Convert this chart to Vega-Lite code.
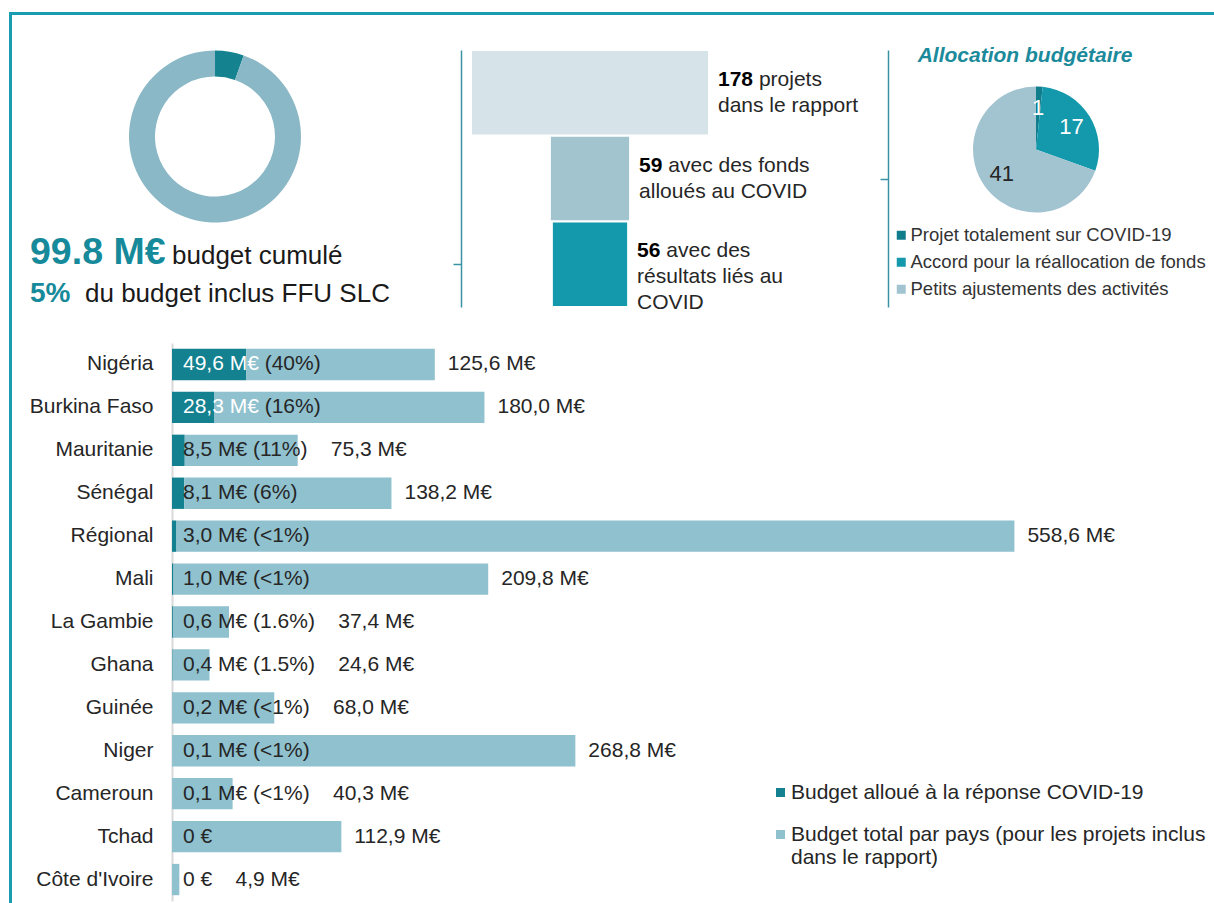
{
  "$schema": "https://vega.github.io/schema/vega-lite/v6.json",
  "padding": {"left": 9, "top": 12, "right": 0, "bottom": 0},
  "background": "white",
  "config": {
    "view": {"stroke": null},
    "font": "Liberation Sans",
    "text": {"font": "Liberation Sans"},
    "axis": {"labelFont": "Liberation Sans"},
    "legend": {"labelFont": "Liberation Sans"},
    "title": {"font": "Liberation Sans"}
  },
  "datasets": {
    "none": [],
    "donut": [
      {"part": "Budget alloué à la réponse COVID-19", "value": 99.8},
      {"part": "Reste du budget inclus FFU SLC", "value": 1744.6}
    ],
    "kpi": [
      {"line": 1, "num": "99.8 M€", "label": "budget cumulé"},
      {"line": 2, "num": "5%", "label": "du budget inclus FFU SLC"}
    ],
    "funnel": [
      {"stage": "Projets dans le rapport", "n": 178, "first": "projets", "more": "dans le rapport"},
      {"stage": "Projets avec des fonds alloués au COVID", "n": 59, "first": "avec des fonds", "more": "alloués au COVID"},
      {"stage": "Projets avec des résultats liés au COVID", "n": 56, "first": "avec des", "more": "résultats liés au\nCOVID"}
    ],
    "pie": [
      {"type": "Projet totalement sur COVID-19", "n": 1},
      {"type": "Accord pour la réallocation de fonds", "n": 17},
      {"type": "Petits ajustements des activités", "n": 41}
    ],
    "countries": [
      {"country": "Nigéria", "covid": 49.6, "total": 125.6, "inner": "49,6 M€ (40%)", "outer": "125,6 M€"},
      {"country": "Burkina Faso", "covid": 28.3, "total": 180.0, "inner": "28,3 M€ (16%)", "outer": "180,0 M€"},
      {"country": "Mauritanie", "covid": 8.5, "total": 75.3, "inner": "8,5 M€ (11%)", "outer": "75,3 M€"},
      {"country": "Sénégal", "covid": 8.1, "total": 138.2, "inner": "8,1 M€ (6%)", "outer": "138,2 M€"},
      {"country": "Régional", "covid": 3.0, "total": 558.6, "inner": "3,0 M€ (<1%)", "outer": "558,6 M€"},
      {"country": "Mali", "covid": 1.0, "total": 209.8, "inner": "1,0 M€ (<1%)", "outer": "209,8 M€"},
      {"country": "La Gambie", "covid": 0.6, "total": 37.4, "inner": "0,6 M€ (1.6%)", "outer": "37,4 M€"},
      {"country": "Ghana", "covid": 0.4, "total": 24.6, "inner": "0,4 M€ (1.5%)", "outer": "24,6 M€"},
      {"country": "Guinée", "covid": 0.2, "total": 68.0, "inner": "0,2 M€ (<1%)", "outer": "68,0 M€"},
      {"country": "Niger", "covid": 0.1, "total": 268.8, "inner": "0,1 M€ (<1%)", "outer": "268,8 M€"},
      {"country": "Cameroun", "covid": 0.1, "total": 40.3, "inner": "0,1 M€ (<1%)", "outer": "40,3 M€"},
      {"country": "Tchad", "covid": 0, "total": 112.9, "inner": "0 €", "outer": "112,9 M€"},
      {"country": "Côte d'Ivoire", "covid": 0, "total": 4.9, "inner": "0 €", "outer": "4,9 M€"}
    ]
  },
  "spacing": 0,
  "bounds": "full",
  "vconcat": [
    {"width": 1214, "height": 1, "data": {"name": "none"}, "mark": "point", "view": {"stroke": "#1A9DB0", "strokeWidth": 2}},
    {
      "spacing": 0,
      "bounds": "full",
      "hconcat": [
        {"width": 1, "height": 900, "data": {"name": "none"}, "mark": "point", "view": {"stroke": "#1A9DB0", "strokeWidth": 2}},
        {
          "columns": 7,
          "spacing": 0,
          "bounds": "flush",
          "align": "each",
          "resolve": {
            "scale": {"color": "independent", "theta": "independent", "size": "independent", "opacity": "independent"},
            "legend": {"color": "independent"}
          },
          "concat": [
            {"width": 1, "height": 33.5, "data": {"name": "none"}, "mark": "point"},
            {"width": 1, "height": 1, "data": {"name": "none"}, "mark": "point"},
            {"width": 1, "height": 1, "data": {"name": "none"}, "mark": "point"},
            {"width": 1, "height": 1, "data": {"name": "none"}, "mark": "point"},
            {"width": 1, "height": 1, "data": {"name": "none"}, "mark": "point"},
            {"width": 1, "height": 1, "data": {"name": "none"}, "mark": "point"},
            {"width": 1, "height": 1, "data": {"name": "none"}, "mark": "point"},

            {
              "width": 36, "height": 293,
              "data": {"name": "kpi"},
              "encoding": {
                "y": {"field": "line", "type": "quantitative", "scale": {"domain": [-4.619, 3.092], "reverse": true, "nice": false, "zero": false}, "axis": null}
              },
              "layer": [
                {
                  "mark": {"type": "text", "align": "left", "baseline": "alphabetic", "fontWeight": "bold", "color": "#168A9A"},
                  "encoding": {
                    "text": {"field": "num"},
                    "size": {"condition": {"test": "datum.line == 1", "value": 37.5}, "value": 28}
                  }
                },
                {
                  "transform": [{"filter": "datum.line == 1"}],
                  "mark": {"type": "text", "align": "left", "baseline": "alphabetic", "dx": 142, "fontSize": 26, "color": "#1A1A1A"},
                  "encoding": {"text": {"field": "label"}}
                },
                {
                  "transform": [{"filter": "datum.line == 2"}],
                  "mark": {"type": "text", "align": "left", "baseline": "alphabetic", "dx": 55, "fontSize": 26, "color": "#1A1A1A"},
                  "encoding": {"text": {"field": "label"}}
                }
              ]
            },
            {
              "width": 86, "height": 173,
              "data": {"name": "donut"},
              "mark": {"type": "arc", "innerRadius": 60, "outerRadius": 86},
              "encoding": {
                "theta": {"field": "value", "type": "quantitative", "stack": true},
                "order": {"field": "value", "type": "quantitative", "sort": "ascending"},
                "color": {"field": "part", "type": "nominal", "legend": null,
                  "scale": {"domain": ["Budget alloué à la réponse COVID-19", "Reste du budget inclus FFU SLC"], "range": ["#15838F", "#8AB8C6"]}}
              }
            },
            {"width": 203, "height": 1, "data": {"name": "none"}, "mark": "point"},
            {
              "width": 258, "height": 257,
              "data": {"name": "funnel"},
              "encoding": {
                "y": {"field": "stage", "type": "nominal", "sort": null,
                  "scale": {"paddingInner": 0.025, "paddingOuter": 0.012},
                  "axis": {"title": null, "labels": false, "values": ["Projets avec des résultats liés au COVID"],
                    "tickSize": 8, "tickColor": "#3A93A3", "tickWidth": 1.5, "domainColor": "#3A93A3", "domainWidth": 1.5, "grid": false}},
                "x": {"field": "n", "type": "quantitative", "stack": "center",
                  "scale": {"domain": [0, 178], "nice": false, "padding": 11}, "axis": null}
              },
              "layer": [
                {
                  "mark": {"type": "bar"},
                  "encoding": {
                    "color": {"field": "stage", "type": "nominal", "legend": null,
                      "scale": {"domain": ["Projets dans le rapport", "Projets avec des fonds alloués au COVID", "Projets avec des résultats liés au COVID"],
                        "range": ["#D6E4EA", "#A2C4CF", "#1399AB"]}}
                  }
                },
                {
                  "mark": {"type": "text", "align": "left", "baseline": "middle", "dx": 10, "dy": -13, "fontSize": 21, "fontWeight": "bold", "color": "#000000"},
                  "encoding": {"text": {"field": "n", "type": "quantitative"}}
                },
                {
                  "mark": {"type": "text", "align": "left", "baseline": "middle", "dx": 50.9, "dy": -13, "fontSize": 21, "color": "#262626"},
                  "encoding": {"text": {"condition": {"test": "datum.n >= 100", "field": "first"}, "value": ""}}
                },
                {
                  "mark": {"type": "text", "align": "left", "baseline": "middle", "dx": 39.2, "dy": -13, "fontSize": 21, "color": "#262626"},
                  "encoding": {"text": {"condition": {"test": "datum.n < 100", "field": "first"}, "value": ""}}
                },
                {
                  "mark": {"type": "text", "align": "left", "baseline": "middle", "dx": 10, "dy": 13, "fontSize": 21, "lineHeight": 26, "lineBreak": "\n", "color": "#262626"},
                  "encoding": {"text": {"field": "more"}}
                }
              ]
            },
            {"width": 169, "height": 1, "data": {"name": "none"}, "mark": "point"},
            {
              "width": 1, "height": 257,
              "data": {"name": "pie"},
              "mark": {"type": "point", "opacity": 0},
              "encoding": {
                "y": {"field": "type", "type": "nominal", "sort": null,
                  "axis": {"title": null, "labels": false, "values": ["Accord pour la réallocation de fonds"],
                    "tickSize": 8, "tickColor": "#3A93A3", "tickWidth": 1.5, "domainColor": "#3A93A3", "domainWidth": 1.5, "grid": false}}
              }
            },
            {
              "width": 294, "height": 199,
              "data": {"name": "pie"},
              "title": {"text": "Allocation budgétaire", "fontStyle": "italic", "fontWeight": "bold", "color": "#1B8A9B", "fontSize": 21, "offset": -16, "dx": -11, "anchor": "middle"},
              "encoding": {
                "theta": {"field": "n", "type": "quantitative", "stack": true},
                "order": {"field": "n", "type": "quantitative", "sort": "ascending"}
              },
              "layer": [
                {
                  "mark": {"type": "arc", "outerRadius": 63},
                  "encoding": {
                    "color": {"field": "type", "type": "nominal",
                      "scale": {"domain": ["Projet totalement sur COVID-19", "Accord pour la réallocation de fonds", "Petits ajustements des activités"],
                        "range": ["#0F7D8B", "#1399AB", "#A2C4D0"]},
                      "legend": {"orient": "none", "legendX": 3, "legendY": 176, "direction": "vertical", "title": null, "symbolType": "square", "symbolSize": 81,
                        "symbolStrokeWidth": 0, "labelFontSize": 18.5, "labelColor": "#333333", "labelOffset": 0, "rowPadding": 8,
                        "labelLimit": 400, "padding": 0}}
                  }
                },
                {
                  "mark": {"type": "text", "radius": 42, "fontSize": 22},
                  "encoding": {
                    "text": {"field": "n", "type": "quantitative"},
                    "color": {"condition": {"test": "datum.n > 20", "value": "#262626"}, "value": "#FFFFFF"}
                  }
                }
              ]
            },

            {"width": 160, "height": 1, "data": {"name": "none"}, "mark": "point"},
            {
              "width": 86, "height": 558,
              "data": {"name": "countries"},
              "encoding": {
                "y": {"field": "country", "type": "nominal", "sort": null,
                  "scale": {"paddingInner": 0.27, "paddingOuter": 0.135},
                  "axis": {"title": null, "ticks": false, "labelFontSize": 21, "labelColor": "#262626", "labelPadding": 19,
                    "domainColor": "#D9D9D9", "domainWidth": 2, "labelLimit": 300, "grid": false}}
              },
              "layer": [
                {
                  "transform": [{"fold": ["covid", "total"], "as": ["key", "value"]}],
                  "mark": {"type": "bar"},
                  "encoding": {
                    "x": {"field": "value", "type": "quantitative", "stack": "zero", "scale": {"domain": [0, 57.3333], "nice": false}, "axis": null},
                    "color": {"field": "key", "type": "nominal",
                      "scale": {"domain": ["covid", "total"], "range": ["#13818F", "#8FC1CF"]},
                      "legend": {"orient": "none", "legendX": 598, "legendY": 439, "direction": "vertical", "title": null,
                        "symbolType": "square", "symbolSize": 81, "symbolStrokeWidth": 0, "labelFontSize": 21, "labelColor": "#262626",
                        "labelOffset": 0, "rowPadding": 20, "labelLimit": 600, "padding": 0,
                        "labelExpr": "datum.value == 'covid' ? 'Budget alloué à la réponse COVID-19' : ['Budget total par pays (pour les projets inclus', 'dans le rapport)']"}},
                    "order": {"field": "key", "type": "nominal", "sort": "ascending"}
                  }
                },
                {
                  "transform": [{"filter": "datum.covid + datum.total >= 100 && datum.covid <= 20"}],
                  "mark": {"type": "text", "align": "left", "baseline": "middle", "dx": 11, "fontSize": 21, "color": "#262626"},
                  "encoding": {"x": {"datum": 0, "type": "quantitative"}, "text": {"field": "inner"}}
                },
                {
                  "transform": [{"filter": "datum.covid + datum.total < 100"}],
                  "mark": {"type": "text", "align": "left", "baseline": "middle", "dx": 11, "fontSize": 21, "color": "#262626",
                    "text": {"expr": "datum.inner + '\u00a0\u00a0\u00a0\u00a0' + datum.outer"}},
                  "encoding": {"x": {"datum": 0, "type": "quantitative"}}
                },
                {
                  "transform": [{"filter": "datum.covid > 20"}],
                  "mark": {"type": "text", "align": "left", "baseline": "middle", "dx": 11, "fontSize": 21, "color": "#FFFFFF",
                    "text": {"expr": "split(datum.inner, ' (')[0]"}},
                  "encoding": {"x": {"datum": 0, "type": "quantitative"}}
                },
                {
                  "transform": [{"filter": "datum.covid > 20"}],
                  "mark": {"type": "text", "align": "left", "baseline": "middle", "dx": 92.7, "fontSize": 21, "color": "#262626",
                    "text": {"expr": "'(' + split(datum.inner, ' (')[1]"}},
                  "encoding": {"x": {"datum": 0, "type": "quantitative"}}
                },
                {
                  "transform": [{"fold": ["covid", "total"], "as": ["key", "value"]}],
                  "mark": {"type": "text", "align": "left", "baseline": "middle", "dx": 13, "fontSize": 21, "color": "#262626"},
                  "encoding": {
                    "x": {"field": "value", "type": "quantitative", "stack": "zero"},
                    "detail": {"field": "key"},
                    "order": {"field": "key", "type": "nominal", "sort": "ascending"},
                    "text": {"condition": {"test": "datum.key == 'total' && datum.covid + datum.total >= 100", "field": "outer"}, "value": ""}
                  }
                }
              ]
            }
          ]
        }
      ]
    }
  ]
}
